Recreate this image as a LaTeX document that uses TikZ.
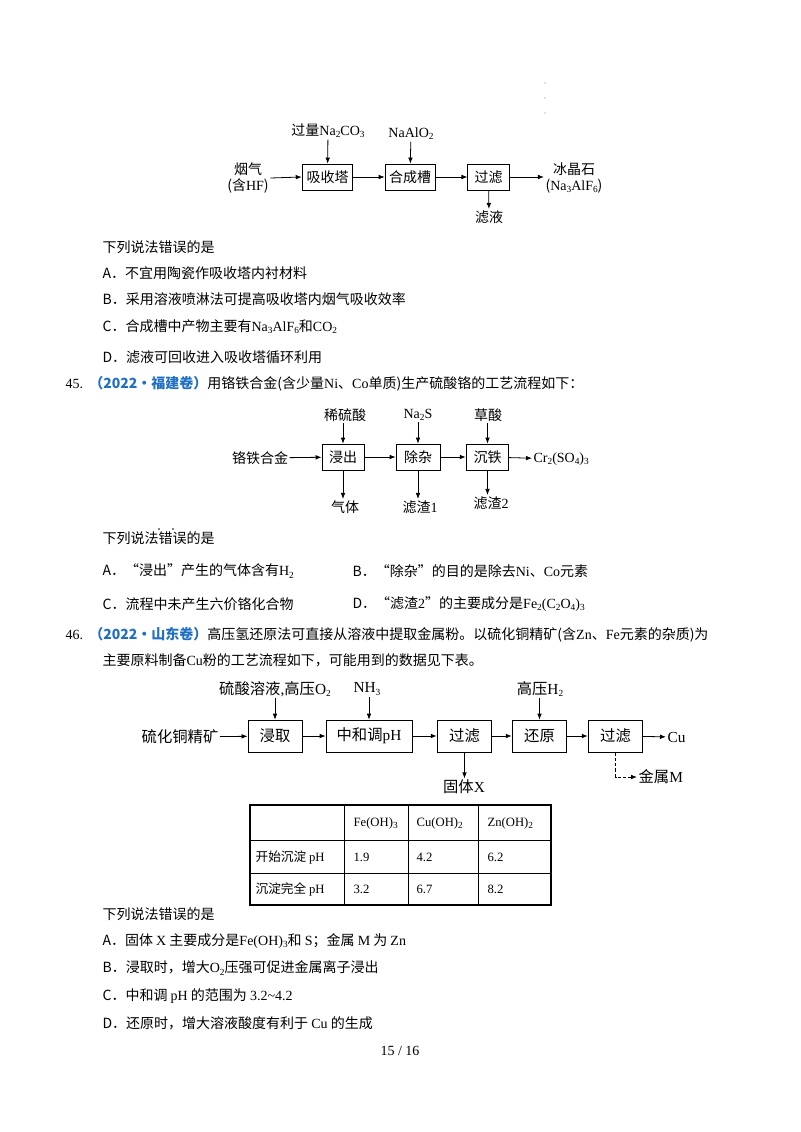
\documentclass[tikz,border=0pt]{standalone}
\usepackage{fontspec}
\setmainfont{Noto Sans CJK SC}
\newfontfamily\tm{Liberation Serif}
\usetikzlibrary{arrows.meta}
\newcommand{\sbs}[1]{\raisebox{-0.35ex}{\scriptsize #1}}
\begin{document}
\begin{tikzpicture}[x=0.75pt,y=-0.75pt,
  every node/.style={font=\fontsize{10.5}{12}\selectfont, inner sep=1pt},
  txt/.style={anchor=west},
  box/.style={draw, line width=0.6pt, minimum height=19.5pt, inner sep=1pt},
  arr/.style={-{Latex[length=4.5pt,width=3.5pt]}, line width=0.6pt},
  lab/.style={font=\fontsize{10.5}{12}\selectfont}]
\useasboundingbox (0,0) rectangle (800,1132);
\fill[white] (0,0) rectangle (800,1132);
% dots top right
\foreach \yy in {83,98,113} \fill[gray] (545,\yy) circle (0.7);
% ---------- Diagram 1
\node[box, minimum width=38pt] (a1) at (327.5,177) {吸收塔};
\node[box, minimum width=37.5pt] (a2) at (410,177) {合成槽};
\node[box, minimum width=31pt] (a3) at (488.5,177) {过滤};
\node[align=center, lab] (a0) at (248,178) {烟气\\(含{\tm HF})};
\node[align=center, lab] (a4) at (574,178) {冰晶石\\({\tm Na\sbs{3}AlF\sbs{6}})};
\node[lab] (a1i) at (328,131) {过量{\tm Na\sbs{2}CO\sbs{3}}};
\node[lab] (a2i) at (411,134) {{\tm NaAlO\sbs{2}}};
\node[lab] (a3o) at (489,217) {滤液};
\draw[arr] (a0.east) -- (a1.west);
\draw[arr] (a1) -- (a2);
\draw[arr] (a2) -- (a3);
\draw[arr] (a3.east) -- (a4.west |- a3.east);
\draw[arr] (a1i) -- (a1);
\draw[arr] (a2i) -- (a2);
\draw[arr] (a3) -- (a3o);
% text block 1
\node[txt] (t1) at (101,247) {下列说法错误的是};
\node[txt] (t2) at (101,273) {A．不宜用陶瓷作吸收塔内衬材料};
\node[txt] (t3) at (101,299) {B．采用溶液喷淋法可提高吸收塔内烟气吸收效率};
\node[txt] (t4) at (101,327) {C．合成槽中产物主要有{\tm Na\sbs{3}AlF\sbs{6}}和{\tm CO\sbs{2}}};
\node[txt] (t5) at (101,357) {D．滤液可回收进入吸收塔循环利用};
\node[txt] (t6) at (64,384) {{\tm 45.}\ \ \textcolor[HTML]{1F6FC4}{\bfseries（2022·福建卷）}用铬铁合金(含少量{\tm Ni}、{\tm Co}单质)生产硫酸铬的工艺流程如下：};
% ---------- Diagram 2
\node[box, minimum width=31.5pt] (b1) at (343,457) {浸出};
\node[box, minimum width=33pt] (b2) at (418,457) {除杂};
\node[box, minimum width=32pt] (b3) at (487.5,457) {沉铁};
\node[lab] (b0) at (260,458) {铬铁合金};
\node[lab, anchor=west] (b4) at (532,459) {{\tm Cr\sbs{2}(SO\sbs{4})\sbs{3}}};
\node[lab] (b1i) at (345,415) {稀硫酸};
\node[lab] (b2i) at (418,415) {{\tm Na\sbs{2}S}};
\node[lab] (b3i) at (488,415) {草酸};
\node[lab] (b1o) at (345,507) {气体};
\node[lab] (b2o) at (420,507) {滤渣{\tm 1}};
\node[lab] (b3o) at (491,503) {滤渣{\tm 2}};
\draw[arr] (b0) -- (b1);
\draw[arr] (b1) -- (b2);
\draw[arr] (b2) -- (b3);
\draw[arr] (b3) -- (b4);
\draw[arr] (b1i.south -| b1.north) -- (b1);
\draw[arr] (b2i.south -| b2.north) -- (b2);
\draw[arr] (b3i.south -| b3.north) -- (b3);
\draw[arr] (b1) -- (b1.south |- b1o.north);
\draw[arr] (b2) -- (b2.south |- b2o.north);
\draw[arr] (b3) -- (b3.south |- b3o.north);
% text block 2
\node[txt] (s1) at (101,538) {下列说法错误的是};
\fill (159,529) circle (0.9) (173,529) circle (0.9);
\node[txt] (s2) at (101,571) {A．“浸出”产生的气体含有{\tm H\sbs{2}}};
\node[txt] (s3) at (351,571) {B．“除杂”的目的是除去{\tm Ni}、{\tm Co}元素};
\node[txt] (s4) at (101,604) {C．流程中未产生六价铬化合物};
\node[txt] (s5) at (351,604) {D．“滤渣{\tm 2}”的主要成分是{\tm Fe\sbs{2}(C\sbs{2}O\sbs{4})\sbs{3}}};
\node[txt] (s6) at (64,635) {{\tm 46.}\ \ \textcolor[HTML]{1F6FC4}{\bfseries（2022·山东卷）}高压氢还原法可直接从溶液中提取金属粉。以硫化铜精矿(含{\tm Zn}、{\tm Fe}元素的杂质)为};
\node[txt] (s7) at (101,660) {主要原料制备{\tm Cu}粉的工艺流程如下，可能用到的数据见下表。};
% ---------- Diagram 3
\begin{scope}[every node/.append style={font=\fontsize{11.5}{13}\selectfont}]
\node[box, minimum width=40.5pt, minimum height=24pt] (c1) at (275,736) {浸取};
\node[box, minimum width=64.5pt, minimum height=24pt] (c2) at (369,736) {中和调{\tm pH}};
\node[box, minimum width=41pt, minimum height=24pt] (c3) at (464.5,736) {过滤};
\node[box, minimum width=41pt, minimum height=24pt] (c4) at (539.5,736) {还原};
\node[box, minimum width=41pt, minimum height=24pt] (c5) at (615.5,736) {过滤};
\node (c0) at (180,737) {硫化铜精矿};
\node[anchor=west] (c6) at (666,737) {{\tm Cu}};
\node (c1i) at (275,689) {硫酸溶液{\tm ,}高压{\tm O\sbs{2}}};
\node (c2i) at (367,689) {{\tm NH\sbs{3}}};
\node (c4i) at (540,689) {高压{\tm H\sbs{2}}};
\node (c3o) at (464,787) {固体{\tm X}};
\node[anchor=west] (c5o) at (637,777) {金属{\tm M}};
\end{scope}
\draw[arr] (c0) -- (c1);
\draw[arr] (c1) -- (c2);
\draw[arr] (c2) -- (c3);
\draw[arr] (c3) -- (c4);
\draw[arr] (c4) -- (c5);
\draw[arr] (c5) -- (c6);
\draw[arr] (c1i.south -| c1.north) -- (c1);
\draw[arr] (c2i.south -| c2.north) -- (c2);
\draw[arr] (c4i.south -| c4.north) -- (c4);
\draw[arr] (c3) -- (c3.south |- c3o.north);
\coordinate (dm) at (c5.south |- c5o.west);
\draw[arr, dashed, dash pattern=on 2.5pt off 1.5pt] (c5.south) -- (dm) -- (c5o.west);
% table
\draw[line width=0.8pt] (250,805) rectangle (551,905);
\draw[line width=0.6pt] (250,840) -- (551,840) (250,873) -- (551,873)
  (344,805) -- (344,905) (408,805) -- (408,905) (478,805) -- (478,905);
\begin{scope}[every node/.append style={anchor=west, font=\fontsize{9.5}{11}\selectfont}]
\node (h1) at (352,823) {{\tm Fe(OH)\sbs{3}}};
\node (h2) at (415,823) {{\tm Cu(OH)\sbs{2}}};
\node (h3) at (486,823) {{\tm Zn(OH)\sbs{2}}};
\node (r1) at (254,857) {开始沉淀 {\tm pH}};
\node (r2) at (254,889) {沉淀完全 {\tm pH}};
\node at (352,857) {{\tm 1.9}};
\node at (415,857) {{\tm 4.2}};
\node at (486,857) {{\tm 6.2}};
\node at (352,889) {{\tm 3.2}};
\node at (415,889) {{\tm 6.7}};
\node at (486,889) {{\tm 8.2}};
\end{scope}
% text block 3
\node[txt] (u1) at (101,914) {下列说法错误的是};
\node[txt] (u2) at (101,941) {A．固体 {\tm X} 主要成分是{\tm Fe(OH)\sbs{3}}和 {\tm S}；金属 {\tm M} 为 {\tm Zn}};
\node[txt] (u3) at (101,968) {B．浸取时，增大{\tm O\sbs{2}}压强可促进金属离子浸出};
\node[txt] (u4) at (101,996) {C．中和调 {\tm pH} 的范围为 {\tm 3.2\textasciitilde 4.2}};
\node[txt] (u5) at (101,1023) {D．还原时，增大溶液酸度有利于 {\tm Cu} 的生成};
\node (pg) at (400,1051) {{\tm 15 / 16}};
\end{tikzpicture}
\end{document}
